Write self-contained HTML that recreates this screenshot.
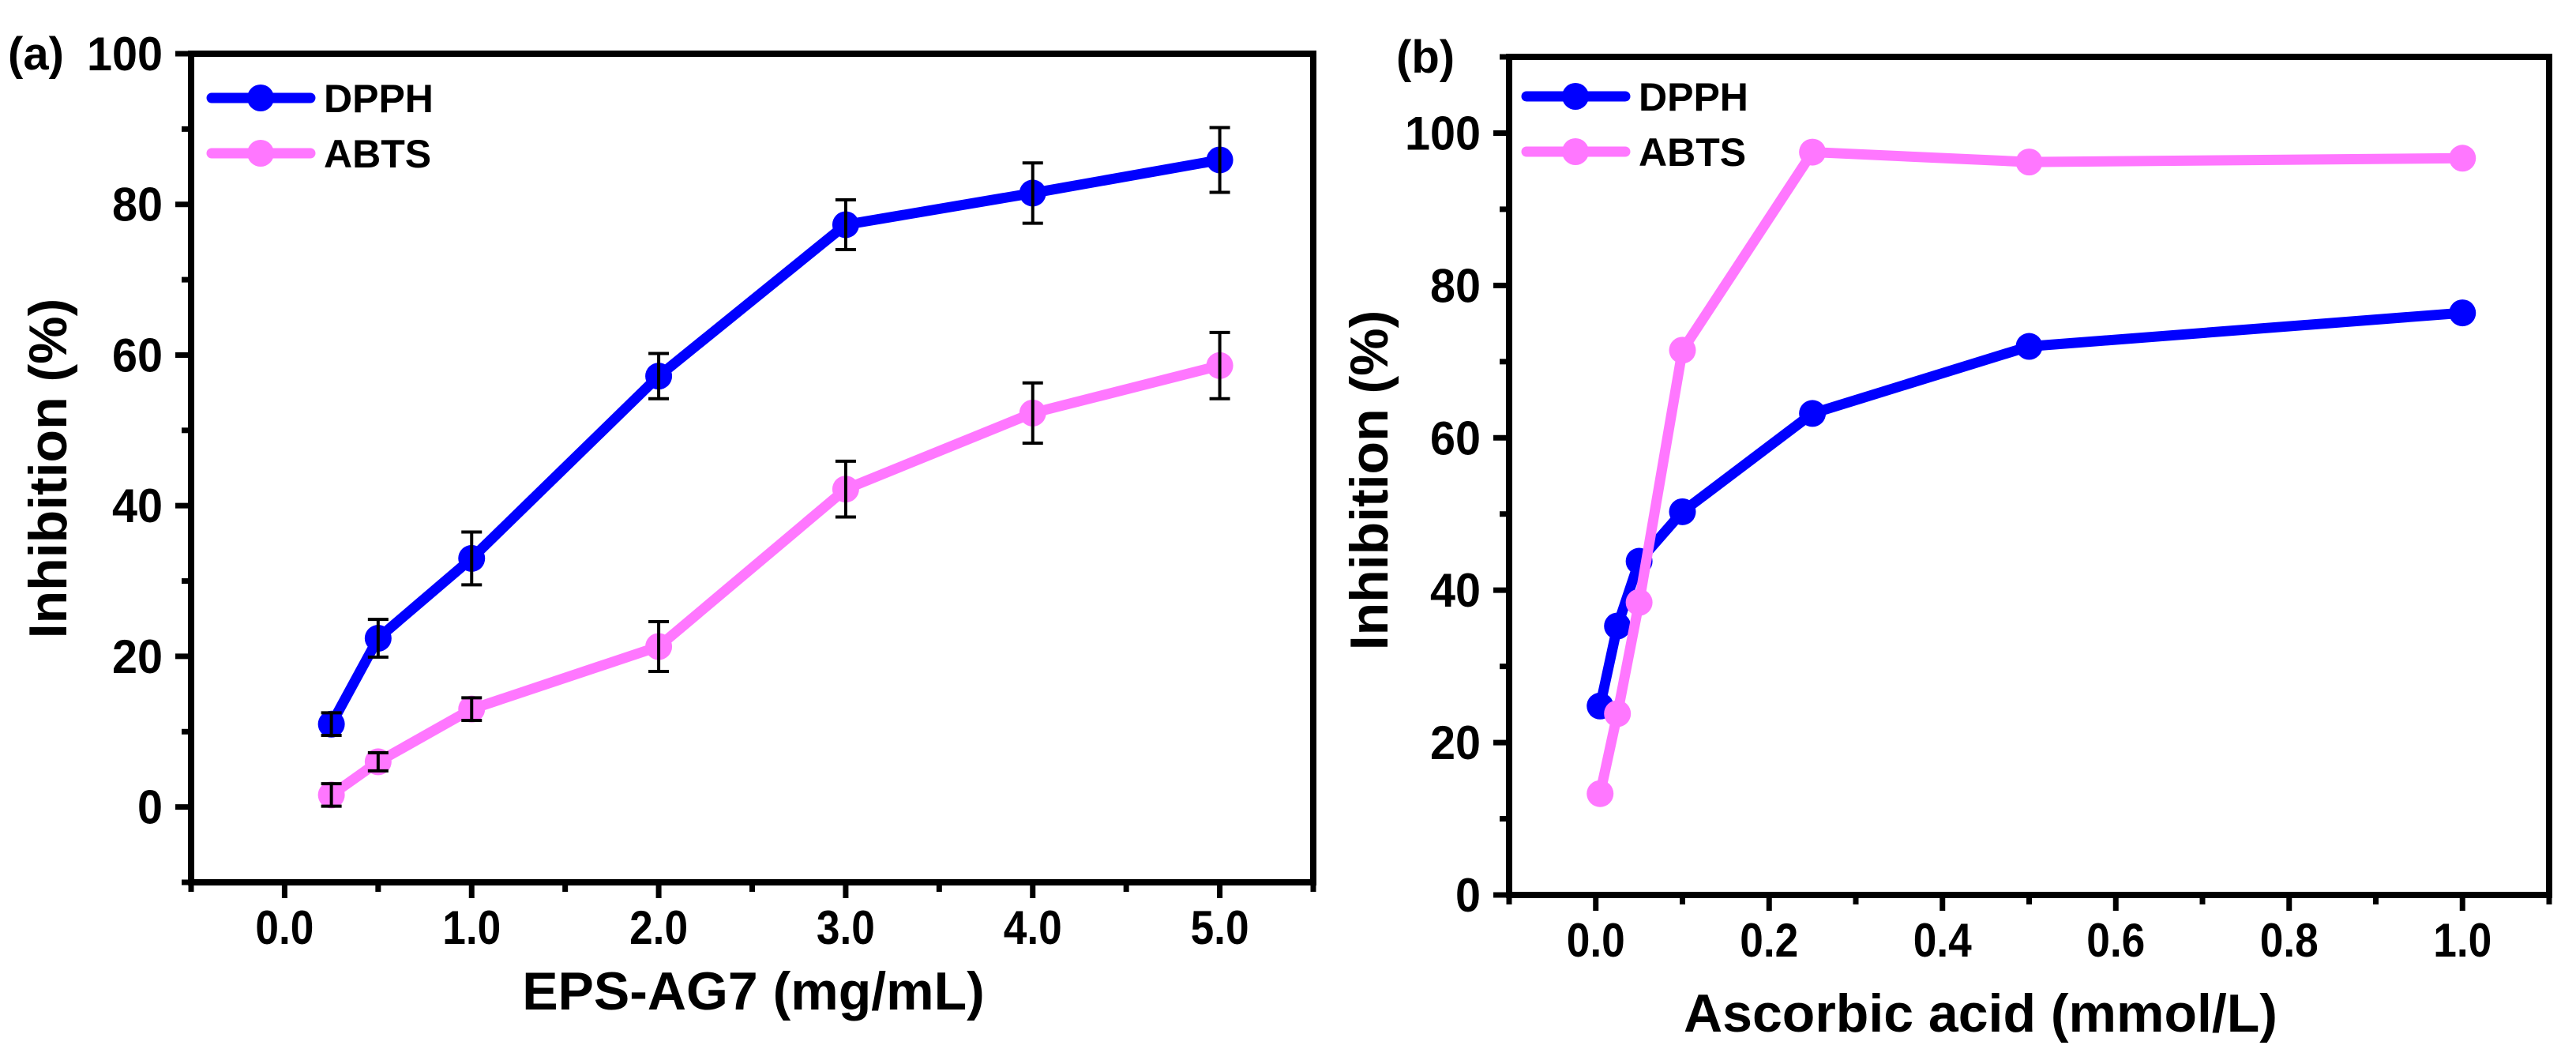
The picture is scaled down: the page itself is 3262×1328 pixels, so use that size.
<!DOCTYPE html>
<html><head><meta charset="utf-8"><style>
html,body{margin:0;padding:0;background:#fff;}
svg{display:block;font-family:"Liberation Sans",Arial,sans-serif;font-weight:bold;}
</style></head><body>
<svg id="fig" width="3262" height="1328" viewBox="0 0 3262 1328" xmlns="http://www.w3.org/2000/svg"></svg>
<script>
// Panel (a) data
const aX = [0.25, 0.5, 1, 2, 3, 4, 5];
const aDPPH = [11, 22.4, 33, 57.2, 77.3, 81.5, 85.9];
const aDPPHErr = [1.5, 2.5, 3.5, 3, 3.3, 4, 4.3];
const aABTS = [1.6, 6, 13, 21.3, 42.2, 52.3, 58.6];
const aABTSErr = [1.5, 1.2, 1.5, 3.3, 3.7, 4, 4.4];
const aXTicks = ["0.0","1.0","2.0","3.0","4.0","5.0"];
const aYTicks = ["0","20","40","60","80","100"];
// Panel (b) data
const bX = [0.005, 0.025, 0.05, 0.1, 0.25, 0.5, 1];
const bDPPH = [24.8, 35.3, 43.8, 50.3, 63.2, 72, 76.4];
const bABTS = [13.3, 23.8, 38.4, 71.5, 97.5, 96.2, 96.7];
const bXTicks = ["0.0","0.2","0.4","0.6","0.8","1.0"];
const bYTicks = ["0","20","40","60","80","100"];

const NS = "http://www.w3.org/2000/svg";
const svg = document.getElementById("fig");
function mk(tag, attrs, parent) {
  const e = document.createElementNS(NS, tag);
  for (const k in attrs) e.setAttribute(k, attrs[k]);
  (parent || svg).appendChild(e);
  return e;
}
const BLUE = "#0000ff", PINK = "#ff77ff";

function panel(cfg) {
  const g = mk("g", {});
  
  
  const sx = v => cfg.L + (v - cfg.x0) / (cfg.x1 - cfg.x0) * (cfg.R - cfg.L);
  const sy = v => cfg.B - (v - cfg.y0) / (cfg.y1 - cfg.y0) * (cfg.B - cfg.T);
  for (let v = cfg.xMinorStart; v <= cfg.x1 + 1e-9; v += cfg.xMinor) {
    const major = Math.abs(Math.round(v / cfg.xMajor) * cfg.xMajor - v) < 1e-6 && v >= 0;
    const t = mk("line", {x1: sx(v), x2: sx(v), y1: cfg.B, y2: cfg.B + (major ? 20 : 12), stroke: "#000", "stroke-width": 7}, g);
    
    
  }
  for (let v = cfg.yMinorStart; v <= cfg.y1 + 1e-9; v += cfg.yMinor) {
    const major = Math.abs(Math.round(v / cfg.yMajor) * cfg.yMajor - v) < 1e-6 && v >= 0;
    const t = mk("line", {x1: cfg.L, x2: cfg.L - (major ? 20 : 12), y1: sy(v), y2: sy(v), stroke: "#000", "stroke-width": 7}, g);
    
    
  }
  cfg.xTicks.forEach(s => {
    const t = mk("text", {x: sx(parseFloat(s)), y: cfg.B + 78, "font-size": 60, "text-anchor": "middle", "textLength": 74, "lengthAdjust": "spacingAndGlyphs"}, g);
    t.textContent = s;
    
    
  });
  cfg.yTicks.forEach(s => {
    const t = mk("text", {x: cfg.L - 36, y: sy(parseFloat(s)) + 21, "font-size": 60, "text-anchor": "end", "textLength": s.length * 32, "lengthAdjust": "spacingAndGlyphs"}, g);
    t.textContent = s;
    
    
  });
  const fr = mk("rect", {x: cfg.L, y: cfg.T, width: cfg.R - cfg.L, height: cfg.B - cfg.T, fill: "none", stroke: "#000", "stroke-width": 8}, g);
  
  
  cfg.series.forEach(s => {
    const sg = mk("g", {}, g);
    
    
    const pts = cfg.xs.map((x, i) => sx(x) + "," + sy(s.ys[i])).join(" ");
    const pl = mk("polyline", {points: pts, fill: "none", stroke: s.color, "stroke-width": 13, "stroke-linejoin": "round"}, sg);
    
    
    cfg.xs.forEach((x, i) => {
      const c = mk("circle", {cx: sx(x), cy: sy(s.ys[i]), r: 17, fill: s.color}, sg);
      
      
    });
    if (s.err) {
      cfg.xs.forEach((x, i) => {
        const cx = sx(x), yt = sy(s.ys[i] + s.err[i]), yb = sy(s.ys[i] - s.err[i]);
        const eg = mk("path", {d: `M${cx},${yt}V${yb}M${cx-13},${yt}H${cx+13}M${cx-13},${yb}H${cx+13}`, stroke: "#000", "stroke-width": 4, fill: "none"}, sg);
        
        
      });
    }
  });
  cfg.series.forEach((s, i) => {
    const ly = cfg.legY[i];
    const lg = mk("g", {}, g);
    
    
    mk("line", {x1: cfg.legX, x2: cfg.legX + 125, y1: ly, y2: ly, stroke: s.color, "stroke-width": 13, "stroke-linecap": "round"}, lg);
    mk("circle", {cx: cfg.legX + 62, cy: ly, r: 17, fill: s.color}, lg);
    const t = mk("text", {x: cfg.legX + 142, y: ly + 18, "font-size": 50}, lg);
    t.textContent = s.label;
  });
  const xt = mk("text", {x: cfg.xTitleX, y: cfg.xTitleY, "font-size": 68, "text-anchor": "middle"}, g);
  xt.textContent = cfg.xTitle;
  
  
  const yt = mk("text", {x: 0, y: 0, "font-size": 68, "text-anchor": "middle", transform: `translate(${cfg.yTitleX},${cfg.yTitleY}) rotate(-90)`}, g);
  yt.textContent = "Inhibition (%)";
  
  
  const pl = mk("text", {x: cfg.panelX, y: cfg.panelY, "font-size": 58}, g);
  pl.textContent = cfg.panelLabel;
  
  
}

panel({name: "panel-a", L: 242, R: 1663, T: 68, B: 1117, x0: -0.5, x1: 5.5, y0: -10, y1: 100,
  xMajor: 1, xMinor: 0.5, xMinorStart: -0.5, yMajor: 20, yMinor: 10, yMinorStart: -10,
  xTicks: aXTicks, yTicks: aYTicks, xs: aX,
  series: [{name: "series-dpph", label: "DPPH", color: BLUE, ys: aDPPH, err: aDPPHErr},
           {name: "series-abts", label: "ABTS", color: PINK, ys: aABTS, err: aABTSErr}],
  legX: 268, legY: [124, 194], xTitle: "EPS-AG7 (mg/mL)", xTitleX: 954, xTitleY: 1278,
  yTitleX: 84, yTitleY: 593, panelLabel: "(a)", panelX: 10, panelY: 88});

panel({name: "panel-b", L: 1911, R: 3228, T: 72, B: 1133, x0: -0.1, x1: 1.1, y0: 0, y1: 110,
  xMajor: 0.2, xMinor: 0.1, xMinorStart: -0.1, yMajor: 20, yMinor: 10, yMinorStart: 0,
  xTicks: bXTicks, yTicks: bYTicks, xs: bX,
  series: [{name: "series-dpph", label: "DPPH", color: BLUE, ys: bDPPH},
           {name: "series-abts", label: "ABTS", color: PINK, ys: bABTS}],
  legX: 1933, legY: [122, 192], xTitle: "Ascorbic acid (mmol/L)", xTitleX: 2508, xTitleY: 1306,
  yTitleX: 1757, yTitleY: 608, panelLabel: "(b)", panelX: 1768, panelY: 92});
</script>
</body></html>
